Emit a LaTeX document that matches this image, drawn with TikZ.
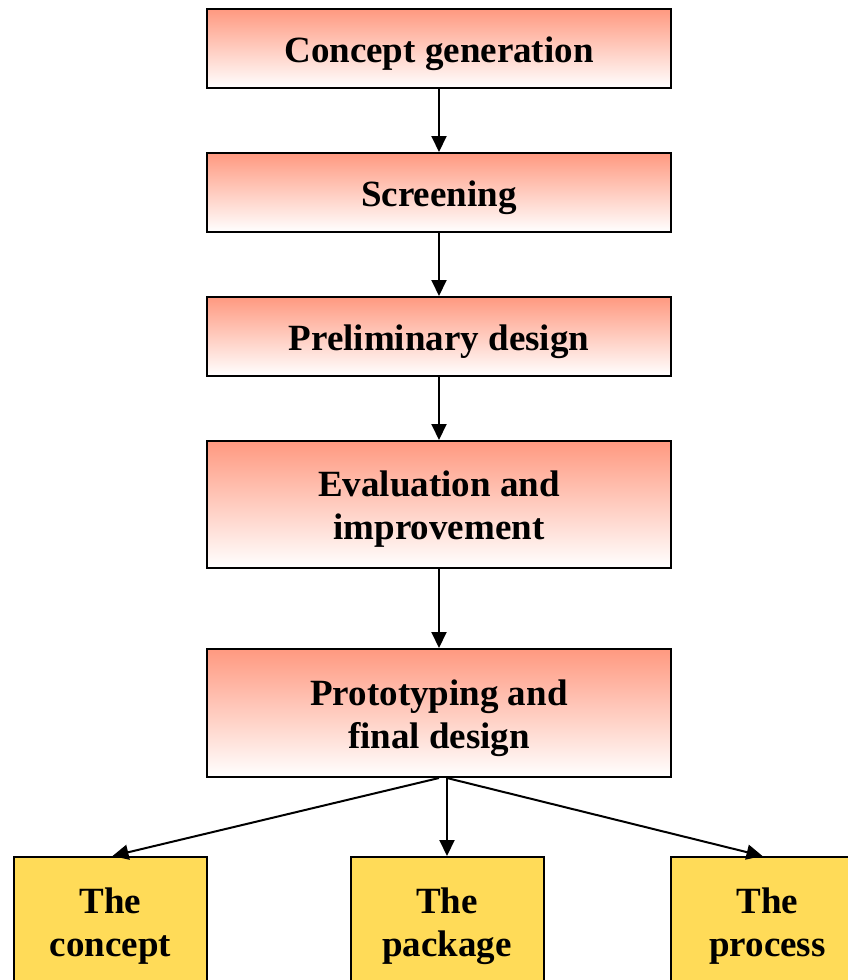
\documentclass[tikz,border=0pt]{standalone}
\usepackage{fontspec}
\setmainfont{Liberation Serif}
\usetikzlibrary{arrows.meta}
\definecolor{salmontop}{RGB}{255,153,128}
\definecolor{goldbox}{RGB}{255,219,88}
\begin{document}
\begin{tikzpicture}[x=1pt,y=-1pt,
  stagebox/.style={draw=black,line width=2pt,minimum width=464pt,inner sep=0pt,
    top color=salmontop,bottom color=white},
  outcomebox/.style={draw=black,line width=2pt,fill=goldbox,minimum width=193pt,
    minimum height=200pt,inner sep=0pt,anchor=north},
  boxtext/.style={inner sep=0pt,align=center,
    font=\fontsize{37}{43}\selectfont\bfseries},
  flow/.style={line width=2pt,-{Triangle[width=15pt,length=16pt]}}]
\useasboundingbox (0,0) rectangle (848,980);
\clip (0,0) rectangle (848,980);

% main stages
\node[stagebox,minimum height=79pt]  (s1) at (439,48.5) {};
\node[stagebox,minimum height=79pt]  (s2) at (439,192.5) {};
\node[stagebox,minimum height=79pt]  (s3) at (439,336.5) {};
\node[stagebox,minimum height=127pt] (s4) at (439,504.5) {};
\node[stagebox,minimum height=128pt] (s5) at (439,713) {};

\node[boxtext] (t1) at ([yshift=-5pt]s1.center) {Concept generation};
\node[boxtext] (t2) at ([yshift=-5pt]s2.center) {Screening};
\node[boxtext] (t3) at ([yshift=-5pt]s3.center) {Preliminary design};
\node[boxtext] (t4) at ([yshift=-5pt]s4.center) {Evaluation and\\improvement};
\node[boxtext] (t5) at ([yshift=-5pt]s5.center) {Prototyping and\\final design};

% outcomes
\node[outcomebox] (o1) at (110.5,856) {};
\node[outcomebox] (o2) at (447,856) {};
\node[outcomebox] (o3) at (767.5,856) {};

\node[boxtext] (u1) at ([yshift=-70pt]o1.north) {The\\concept};
\node[boxtext] (u2) at ([yshift=-70pt]o2.north) {The\\package};
\node[boxtext] (u3) at ([yshift=-70pt]o3.north) {The\\process};

% connectors
\draw[flow] (s1.south) -- (s2.north);
\draw[flow] (s2.south) -- (s3.north);
\draw[flow] (s3.south) -- (s4.north);
\draw[flow] (s4.south) -- (s5.north);

\coordinate (split) at ([xshift=8pt]s5.south);
\draw[flow] (s5.south) -- ([xshift=2pt]o1.north);
\draw[flow] (split) -- (o2.north);
\draw[flow] (split) -- ([xshift=-5pt]o3.north);
\end{tikzpicture}
\end{document}
